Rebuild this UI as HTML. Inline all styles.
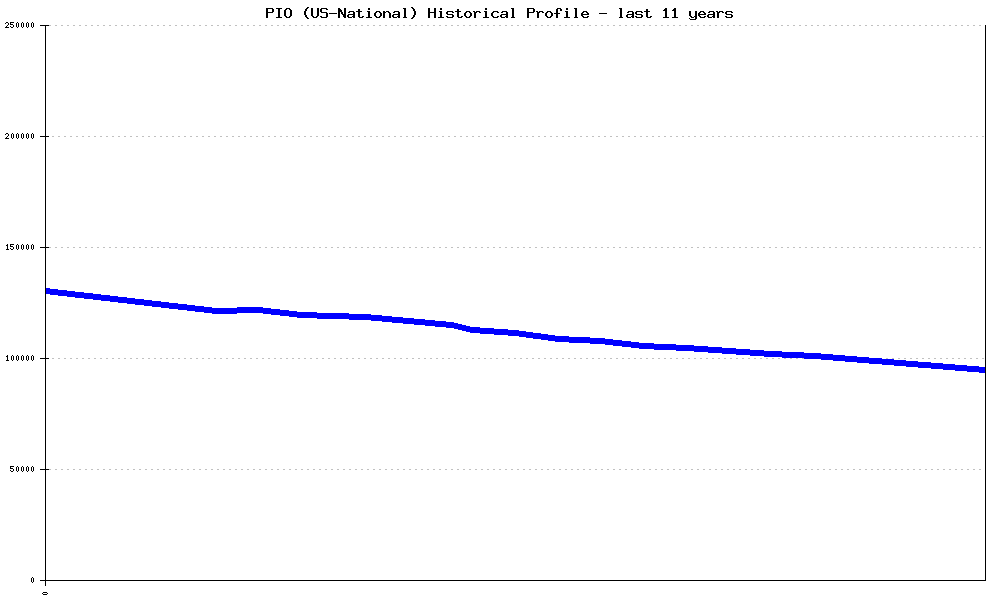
<!DOCTYPE html>
<html><head><meta charset="utf-8"><title>PIO (US-National) Historical Profile</title>
<style>html,body{margin:0;padding:0;background:#fff;}svg{display:block;}
body{font-family:"Liberation Sans",sans-serif;width:1000px;height:600px;overflow:hidden;}</style></head>
<body><svg width="1000" height="600" viewBox="0 0 1000 600" shape-rendering="crispEdges">
<rect width="1000" height="600" fill="#fff"/>
<path fill="#c0c0c0" d="M49 25h2v1h-2zM55 25h2v1h-2zM61 25h2v1h-2zM67 25h2v1h-2zM73 25h2v1h-2zM79 25h2v1h-2zM85 25h2v1h-2zM91 25h2v1h-2zM97 25h2v1h-2zM103 25h2v1h-2zM109 25h2v1h-2zM115 25h2v1h-2zM121 25h2v1h-2zM127 25h2v1h-2zM133 25h2v1h-2zM139 25h2v1h-2zM145 25h2v1h-2zM151 25h2v1h-2zM157 25h2v1h-2zM163 25h2v1h-2zM169 25h2v1h-2zM175 25h2v1h-2zM181 25h2v1h-2zM187 25h2v1h-2zM193 25h2v1h-2zM199 25h2v1h-2zM205 25h2v1h-2zM211 25h2v1h-2zM217 25h2v1h-2zM223 25h2v1h-2zM229 25h2v1h-2zM235 25h2v1h-2zM241 25h2v1h-2zM247 25h2v1h-2zM253 25h2v1h-2zM259 25h2v1h-2zM265 25h2v1h-2zM271 25h2v1h-2zM277 25h2v1h-2zM283 25h2v1h-2zM289 25h2v1h-2zM295 25h2v1h-2zM301 25h2v1h-2zM307 25h2v1h-2zM313 25h2v1h-2zM319 25h2v1h-2zM325 25h2v1h-2zM331 25h2v1h-2zM337 25h2v1h-2zM343 25h2v1h-2zM349 25h2v1h-2zM355 25h2v1h-2zM361 25h2v1h-2zM367 25h2v1h-2zM373 25h2v1h-2zM379 25h2v1h-2zM385 25h2v1h-2zM391 25h2v1h-2zM397 25h2v1h-2zM403 25h2v1h-2zM409 25h2v1h-2zM415 25h2v1h-2zM421 25h2v1h-2zM427 25h2v1h-2zM433 25h2v1h-2zM439 25h2v1h-2zM445 25h2v1h-2zM451 25h2v1h-2zM457 25h2v1h-2zM463 25h2v1h-2zM469 25h2v1h-2zM475 25h2v1h-2zM481 25h2v1h-2zM487 25h2v1h-2zM493 25h2v1h-2zM499 25h2v1h-2zM505 25h2v1h-2zM511 25h2v1h-2zM517 25h2v1h-2zM523 25h2v1h-2zM529 25h2v1h-2zM535 25h2v1h-2zM541 25h2v1h-2zM547 25h2v1h-2zM553 25h2v1h-2zM559 25h2v1h-2zM565 25h2v1h-2zM571 25h2v1h-2zM577 25h2v1h-2zM583 25h2v1h-2zM589 25h2v1h-2zM595 25h2v1h-2zM601 25h2v1h-2zM607 25h2v1h-2zM613 25h2v1h-2zM619 25h2v1h-2zM625 25h2v1h-2zM631 25h2v1h-2zM637 25h2v1h-2zM643 25h2v1h-2zM649 25h2v1h-2zM655 25h2v1h-2zM661 25h2v1h-2zM667 25h2v1h-2zM673 25h2v1h-2zM679 25h2v1h-2zM685 25h2v1h-2zM691 25h2v1h-2zM697 25h2v1h-2zM703 25h2v1h-2zM709 25h2v1h-2zM715 25h2v1h-2zM721 25h2v1h-2zM727 25h2v1h-2zM733 25h2v1h-2zM739 25h2v1h-2zM745 25h2v1h-2zM751 25h2v1h-2zM757 25h2v1h-2zM763 25h2v1h-2zM769 25h2v1h-2zM775 25h2v1h-2zM781 25h2v1h-2zM787 25h2v1h-2zM793 25h2v1h-2zM799 25h2v1h-2zM805 25h2v1h-2zM811 25h2v1h-2zM817 25h2v1h-2zM823 25h2v1h-2zM829 25h2v1h-2zM835 25h2v1h-2zM841 25h2v1h-2zM847 25h2v1h-2zM853 25h2v1h-2zM859 25h2v1h-2zM865 25h2v1h-2zM871 25h2v1h-2zM877 25h2v1h-2zM883 25h2v1h-2zM889 25h2v1h-2zM895 25h2v1h-2zM901 25h2v1h-2zM907 25h2v1h-2zM913 25h2v1h-2zM919 25h2v1h-2zM925 25h2v1h-2zM931 25h2v1h-2zM937 25h2v1h-2zM943 25h2v1h-2zM949 25h2v1h-2zM955 25h2v1h-2zM961 25h2v1h-2zM967 25h2v1h-2zM973 25h2v1h-2zM979 25h2v1h-2zM46 136h2v1h-2zM52 136h2v1h-2zM58 136h2v1h-2zM64 136h2v1h-2zM70 136h2v1h-2zM76 136h2v1h-2zM82 136h2v1h-2zM88 136h2v1h-2zM94 136h2v1h-2zM100 136h2v1h-2zM106 136h2v1h-2zM112 136h2v1h-2zM118 136h2v1h-2zM124 136h2v1h-2zM130 136h2v1h-2zM136 136h2v1h-2zM142 136h2v1h-2zM148 136h2v1h-2zM154 136h2v1h-2zM160 136h2v1h-2zM166 136h2v1h-2zM172 136h2v1h-2zM178 136h2v1h-2zM184 136h2v1h-2zM190 136h2v1h-2zM196 136h2v1h-2zM202 136h2v1h-2zM208 136h2v1h-2zM214 136h2v1h-2zM220 136h2v1h-2zM226 136h2v1h-2zM232 136h2v1h-2zM238 136h2v1h-2zM244 136h2v1h-2zM250 136h2v1h-2zM256 136h2v1h-2zM262 136h2v1h-2zM268 136h2v1h-2zM274 136h2v1h-2zM280 136h2v1h-2zM286 136h2v1h-2zM292 136h2v1h-2zM298 136h2v1h-2zM304 136h2v1h-2zM310 136h2v1h-2zM316 136h2v1h-2zM322 136h2v1h-2zM328 136h2v1h-2zM334 136h2v1h-2zM340 136h2v1h-2zM346 136h2v1h-2zM352 136h2v1h-2zM358 136h2v1h-2zM364 136h2v1h-2zM370 136h2v1h-2zM376 136h2v1h-2zM382 136h2v1h-2zM388 136h2v1h-2zM394 136h2v1h-2zM400 136h2v1h-2zM406 136h2v1h-2zM412 136h2v1h-2zM418 136h2v1h-2zM424 136h2v1h-2zM430 136h2v1h-2zM436 136h2v1h-2zM442 136h2v1h-2zM448 136h2v1h-2zM454 136h2v1h-2zM460 136h2v1h-2zM466 136h2v1h-2zM472 136h2v1h-2zM478 136h2v1h-2zM484 136h2v1h-2zM490 136h2v1h-2zM496 136h2v1h-2zM502 136h2v1h-2zM508 136h2v1h-2zM514 136h2v1h-2zM520 136h2v1h-2zM526 136h2v1h-2zM532 136h2v1h-2zM538 136h2v1h-2zM544 136h2v1h-2zM550 136h2v1h-2zM556 136h2v1h-2zM562 136h2v1h-2zM568 136h2v1h-2zM574 136h2v1h-2zM580 136h2v1h-2zM586 136h2v1h-2zM592 136h2v1h-2zM598 136h2v1h-2zM604 136h2v1h-2zM610 136h2v1h-2zM616 136h2v1h-2zM622 136h2v1h-2zM628 136h2v1h-2zM634 136h2v1h-2zM640 136h2v1h-2zM646 136h2v1h-2zM652 136h2v1h-2zM658 136h2v1h-2zM664 136h2v1h-2zM670 136h2v1h-2zM676 136h2v1h-2zM682 136h2v1h-2zM688 136h2v1h-2zM694 136h2v1h-2zM700 136h2v1h-2zM706 136h2v1h-2zM712 136h2v1h-2zM718 136h2v1h-2zM724 136h2v1h-2zM730 136h2v1h-2zM736 136h2v1h-2zM742 136h2v1h-2zM748 136h2v1h-2zM754 136h2v1h-2zM760 136h2v1h-2zM766 136h2v1h-2zM772 136h2v1h-2zM778 136h2v1h-2zM784 136h2v1h-2zM790 136h2v1h-2zM796 136h2v1h-2zM802 136h2v1h-2zM808 136h2v1h-2zM814 136h2v1h-2zM820 136h2v1h-2zM826 136h2v1h-2zM832 136h2v1h-2zM838 136h2v1h-2zM844 136h2v1h-2zM850 136h2v1h-2zM856 136h2v1h-2zM862 136h2v1h-2zM868 136h2v1h-2zM874 136h2v1h-2zM880 136h2v1h-2zM886 136h2v1h-2zM892 136h2v1h-2zM898 136h2v1h-2zM904 136h2v1h-2zM910 136h2v1h-2zM916 136h2v1h-2zM922 136h2v1h-2zM928 136h2v1h-2zM934 136h2v1h-2zM940 136h2v1h-2zM946 136h2v1h-2zM952 136h2v1h-2zM958 136h2v1h-2zM964 136h2v1h-2zM970 136h2v1h-2zM976 136h2v1h-2zM982 136h2v1h-2zM49 247h2v1h-2zM55 247h2v1h-2zM61 247h2v1h-2zM67 247h2v1h-2zM73 247h2v1h-2zM79 247h2v1h-2zM85 247h2v1h-2zM91 247h2v1h-2zM97 247h2v1h-2zM103 247h2v1h-2zM109 247h2v1h-2zM115 247h2v1h-2zM121 247h2v1h-2zM127 247h2v1h-2zM133 247h2v1h-2zM139 247h2v1h-2zM145 247h2v1h-2zM151 247h2v1h-2zM157 247h2v1h-2zM163 247h2v1h-2zM169 247h2v1h-2zM175 247h2v1h-2zM181 247h2v1h-2zM187 247h2v1h-2zM193 247h2v1h-2zM199 247h2v1h-2zM205 247h2v1h-2zM211 247h2v1h-2zM217 247h2v1h-2zM223 247h2v1h-2zM229 247h2v1h-2zM235 247h2v1h-2zM241 247h2v1h-2zM247 247h2v1h-2zM253 247h2v1h-2zM259 247h2v1h-2zM265 247h2v1h-2zM271 247h2v1h-2zM277 247h2v1h-2zM283 247h2v1h-2zM289 247h2v1h-2zM295 247h2v1h-2zM301 247h2v1h-2zM307 247h2v1h-2zM313 247h2v1h-2zM319 247h2v1h-2zM325 247h2v1h-2zM331 247h2v1h-2zM337 247h2v1h-2zM343 247h2v1h-2zM349 247h2v1h-2zM355 247h2v1h-2zM361 247h2v1h-2zM367 247h2v1h-2zM373 247h2v1h-2zM379 247h2v1h-2zM385 247h2v1h-2zM391 247h2v1h-2zM397 247h2v1h-2zM403 247h2v1h-2zM409 247h2v1h-2zM415 247h2v1h-2zM421 247h2v1h-2zM427 247h2v1h-2zM433 247h2v1h-2zM439 247h2v1h-2zM445 247h2v1h-2zM451 247h2v1h-2zM457 247h2v1h-2zM463 247h2v1h-2zM469 247h2v1h-2zM475 247h2v1h-2zM481 247h2v1h-2zM487 247h2v1h-2zM493 247h2v1h-2zM499 247h2v1h-2zM505 247h2v1h-2zM511 247h2v1h-2zM517 247h2v1h-2zM523 247h2v1h-2zM529 247h2v1h-2zM535 247h2v1h-2zM541 247h2v1h-2zM547 247h2v1h-2zM553 247h2v1h-2zM559 247h2v1h-2zM565 247h2v1h-2zM571 247h2v1h-2zM577 247h2v1h-2zM583 247h2v1h-2zM589 247h2v1h-2zM595 247h2v1h-2zM601 247h2v1h-2zM607 247h2v1h-2zM613 247h2v1h-2zM619 247h2v1h-2zM625 247h2v1h-2zM631 247h2v1h-2zM637 247h2v1h-2zM643 247h2v1h-2zM649 247h2v1h-2zM655 247h2v1h-2zM661 247h2v1h-2zM667 247h2v1h-2zM673 247h2v1h-2zM679 247h2v1h-2zM685 247h2v1h-2zM691 247h2v1h-2zM697 247h2v1h-2zM703 247h2v1h-2zM709 247h2v1h-2zM715 247h2v1h-2zM721 247h2v1h-2zM727 247h2v1h-2zM733 247h2v1h-2zM739 247h2v1h-2zM745 247h2v1h-2zM751 247h2v1h-2zM757 247h2v1h-2zM763 247h2v1h-2zM769 247h2v1h-2zM775 247h2v1h-2zM781 247h2v1h-2zM787 247h2v1h-2zM793 247h2v1h-2zM799 247h2v1h-2zM805 247h2v1h-2zM811 247h2v1h-2zM817 247h2v1h-2zM823 247h2v1h-2zM829 247h2v1h-2zM835 247h2v1h-2zM841 247h2v1h-2zM847 247h2v1h-2zM853 247h2v1h-2zM859 247h2v1h-2zM865 247h2v1h-2zM871 247h2v1h-2zM877 247h2v1h-2zM883 247h2v1h-2zM889 247h2v1h-2zM895 247h2v1h-2zM901 247h2v1h-2zM907 247h2v1h-2zM913 247h2v1h-2zM919 247h2v1h-2zM925 247h2v1h-2zM931 247h2v1h-2zM937 247h2v1h-2zM943 247h2v1h-2zM949 247h2v1h-2zM955 247h2v1h-2zM961 247h2v1h-2zM967 247h2v1h-2zM973 247h2v1h-2zM979 247h2v1h-2zM46 358h2v1h-2zM52 358h2v1h-2zM58 358h2v1h-2zM64 358h2v1h-2zM70 358h2v1h-2zM76 358h2v1h-2zM82 358h2v1h-2zM88 358h2v1h-2zM94 358h2v1h-2zM100 358h2v1h-2zM106 358h2v1h-2zM112 358h2v1h-2zM118 358h2v1h-2zM124 358h2v1h-2zM130 358h2v1h-2zM136 358h2v1h-2zM142 358h2v1h-2zM148 358h2v1h-2zM154 358h2v1h-2zM160 358h2v1h-2zM166 358h2v1h-2zM172 358h2v1h-2zM178 358h2v1h-2zM184 358h2v1h-2zM190 358h2v1h-2zM196 358h2v1h-2zM202 358h2v1h-2zM208 358h2v1h-2zM214 358h2v1h-2zM220 358h2v1h-2zM226 358h2v1h-2zM232 358h2v1h-2zM238 358h2v1h-2zM244 358h2v1h-2zM250 358h2v1h-2zM256 358h2v1h-2zM262 358h2v1h-2zM268 358h2v1h-2zM274 358h2v1h-2zM280 358h2v1h-2zM286 358h2v1h-2zM292 358h2v1h-2zM298 358h2v1h-2zM304 358h2v1h-2zM310 358h2v1h-2zM316 358h2v1h-2zM322 358h2v1h-2zM328 358h2v1h-2zM334 358h2v1h-2zM340 358h2v1h-2zM346 358h2v1h-2zM352 358h2v1h-2zM358 358h2v1h-2zM364 358h2v1h-2zM370 358h2v1h-2zM376 358h2v1h-2zM382 358h2v1h-2zM388 358h2v1h-2zM394 358h2v1h-2zM400 358h2v1h-2zM406 358h2v1h-2zM412 358h2v1h-2zM418 358h2v1h-2zM424 358h2v1h-2zM430 358h2v1h-2zM436 358h2v1h-2zM442 358h2v1h-2zM448 358h2v1h-2zM454 358h2v1h-2zM460 358h2v1h-2zM466 358h2v1h-2zM472 358h2v1h-2zM478 358h2v1h-2zM484 358h2v1h-2zM490 358h2v1h-2zM496 358h2v1h-2zM502 358h2v1h-2zM508 358h2v1h-2zM514 358h2v1h-2zM520 358h2v1h-2zM526 358h2v1h-2zM532 358h2v1h-2zM538 358h2v1h-2zM544 358h2v1h-2zM550 358h2v1h-2zM556 358h2v1h-2zM562 358h2v1h-2zM568 358h2v1h-2zM574 358h2v1h-2zM580 358h2v1h-2zM586 358h2v1h-2zM592 358h2v1h-2zM598 358h2v1h-2zM604 358h2v1h-2zM610 358h2v1h-2zM616 358h2v1h-2zM622 358h2v1h-2zM628 358h2v1h-2zM634 358h2v1h-2zM640 358h2v1h-2zM646 358h2v1h-2zM652 358h2v1h-2zM658 358h2v1h-2zM664 358h2v1h-2zM670 358h2v1h-2zM676 358h2v1h-2zM682 358h2v1h-2zM688 358h2v1h-2zM694 358h2v1h-2zM700 358h2v1h-2zM706 358h2v1h-2zM712 358h2v1h-2zM718 358h2v1h-2zM724 358h2v1h-2zM730 358h2v1h-2zM736 358h2v1h-2zM742 358h2v1h-2zM748 358h2v1h-2zM754 358h2v1h-2zM760 358h2v1h-2zM766 358h2v1h-2zM772 358h2v1h-2zM778 358h2v1h-2zM784 358h2v1h-2zM790 358h2v1h-2zM796 358h2v1h-2zM802 358h2v1h-2zM808 358h2v1h-2zM814 358h2v1h-2zM820 358h2v1h-2zM826 358h2v1h-2zM832 358h2v1h-2zM838 358h2v1h-2zM844 358h2v1h-2zM850 358h2v1h-2zM856 358h2v1h-2zM862 358h2v1h-2zM868 358h2v1h-2zM874 358h2v1h-2zM880 358h2v1h-2zM886 358h2v1h-2zM892 358h2v1h-2zM898 358h2v1h-2zM904 358h2v1h-2zM910 358h2v1h-2zM916 358h2v1h-2zM922 358h2v1h-2zM928 358h2v1h-2zM934 358h2v1h-2zM940 358h2v1h-2zM946 358h2v1h-2zM952 358h2v1h-2zM958 358h2v1h-2zM964 358h2v1h-2zM970 358h2v1h-2zM976 358h2v1h-2zM982 358h2v1h-2zM49 469h2v1h-2zM55 469h2v1h-2zM61 469h2v1h-2zM67 469h2v1h-2zM73 469h2v1h-2zM79 469h2v1h-2zM85 469h2v1h-2zM91 469h2v1h-2zM97 469h2v1h-2zM103 469h2v1h-2zM109 469h2v1h-2zM115 469h2v1h-2zM121 469h2v1h-2zM127 469h2v1h-2zM133 469h2v1h-2zM139 469h2v1h-2zM145 469h2v1h-2zM151 469h2v1h-2zM157 469h2v1h-2zM163 469h2v1h-2zM169 469h2v1h-2zM175 469h2v1h-2zM181 469h2v1h-2zM187 469h2v1h-2zM193 469h2v1h-2zM199 469h2v1h-2zM205 469h2v1h-2zM211 469h2v1h-2zM217 469h2v1h-2zM223 469h2v1h-2zM229 469h2v1h-2zM235 469h2v1h-2zM241 469h2v1h-2zM247 469h2v1h-2zM253 469h2v1h-2zM259 469h2v1h-2zM265 469h2v1h-2zM271 469h2v1h-2zM277 469h2v1h-2zM283 469h2v1h-2zM289 469h2v1h-2zM295 469h2v1h-2zM301 469h2v1h-2zM307 469h2v1h-2zM313 469h2v1h-2zM319 469h2v1h-2zM325 469h2v1h-2zM331 469h2v1h-2zM337 469h2v1h-2zM343 469h2v1h-2zM349 469h2v1h-2zM355 469h2v1h-2zM361 469h2v1h-2zM367 469h2v1h-2zM373 469h2v1h-2zM379 469h2v1h-2zM385 469h2v1h-2zM391 469h2v1h-2zM397 469h2v1h-2zM403 469h2v1h-2zM409 469h2v1h-2zM415 469h2v1h-2zM421 469h2v1h-2zM427 469h2v1h-2zM433 469h2v1h-2zM439 469h2v1h-2zM445 469h2v1h-2zM451 469h2v1h-2zM457 469h2v1h-2zM463 469h2v1h-2zM469 469h2v1h-2zM475 469h2v1h-2zM481 469h2v1h-2zM487 469h2v1h-2zM493 469h2v1h-2zM499 469h2v1h-2zM505 469h2v1h-2zM511 469h2v1h-2zM517 469h2v1h-2zM523 469h2v1h-2zM529 469h2v1h-2zM535 469h2v1h-2zM541 469h2v1h-2zM547 469h2v1h-2zM553 469h2v1h-2zM559 469h2v1h-2zM565 469h2v1h-2zM571 469h2v1h-2zM577 469h2v1h-2zM583 469h2v1h-2zM589 469h2v1h-2zM595 469h2v1h-2zM601 469h2v1h-2zM607 469h2v1h-2zM613 469h2v1h-2zM619 469h2v1h-2zM625 469h2v1h-2zM631 469h2v1h-2zM637 469h2v1h-2zM643 469h2v1h-2zM649 469h2v1h-2zM655 469h2v1h-2zM661 469h2v1h-2zM667 469h2v1h-2zM673 469h2v1h-2zM679 469h2v1h-2zM685 469h2v1h-2zM691 469h2v1h-2zM697 469h2v1h-2zM703 469h2v1h-2zM709 469h2v1h-2zM715 469h2v1h-2zM721 469h2v1h-2zM727 469h2v1h-2zM733 469h2v1h-2zM739 469h2v1h-2zM745 469h2v1h-2zM751 469h2v1h-2zM757 469h2v1h-2zM763 469h2v1h-2zM769 469h2v1h-2zM775 469h2v1h-2zM781 469h2v1h-2zM787 469h2v1h-2zM793 469h2v1h-2zM799 469h2v1h-2zM805 469h2v1h-2zM811 469h2v1h-2zM817 469h2v1h-2zM823 469h2v1h-2zM829 469h2v1h-2zM835 469h2v1h-2zM841 469h2v1h-2zM847 469h2v1h-2zM853 469h2v1h-2zM859 469h2v1h-2zM865 469h2v1h-2zM871 469h2v1h-2zM877 469h2v1h-2zM883 469h2v1h-2zM889 469h2v1h-2zM895 469h2v1h-2zM901 469h2v1h-2zM907 469h2v1h-2zM913 469h2v1h-2zM919 469h2v1h-2zM925 469h2v1h-2zM931 469h2v1h-2zM937 469h2v1h-2zM943 469h2v1h-2zM949 469h2v1h-2zM955 469h2v1h-2zM961 469h2v1h-2zM967 469h2v1h-2zM973 469h2v1h-2zM979 469h2v1h-2z"/>
<path fill="#0000ff" d="M45 288h5v6h-5zM50 289h8v6h-8zM58 290h9v6h-9zM67 291h8v6h-8zM75 292h9v6h-9zM84 293h9v6h-9zM93 294h8v6h-8zM101 295h9v6h-9zM110 296h8v6h-8zM118 297h9v6h-9zM127 298h8v6h-8zM135 299h9v6h-9zM144 300h8v6h-8zM152 301h9v6h-9zM161 302h8v6h-8zM169 303h9v6h-9zM178 304h9v6h-9zM187 305h8v6h-8zM195 306h9v6h-9zM204 307h8v6h-8zM212 308h25v6h-25zM237 307h26v6h-26zM263 308h8v6h-8zM271 309h9v6h-9zM280 310h9v6h-9zM289 311h8v6h-8zM297 312h20v6h-20zM317 313h32v6h-32zM349 314h22v6h-22zM371 315h11v6h-11zM382 316h10v6h-10zM392 317h11v6h-11zM403 318h11v6h-11zM414 319h11v6h-11zM425 320h10v6h-10zM435 321h11v6h-11zM446 322h8v6h-8zM454 323h4v6h-4zM458 324h4v6h-4zM462 325h4v6h-4zM466 326h4v6h-4zM470 327h10v6h-10zM480 328h14v6h-14zM494 329h14v6h-14zM508 330h11v6h-11zM519 331h7v6h-7zM526 332h7v6h-7zM533 333h8v6h-8zM541 334h7v6h-7zM548 335h7v6h-7zM555 336h14v6h-14zM569 337h21v6h-21zM590 338h15v6h-15zM605 339h8v6h-8zM613 340h9v6h-9zM622 341h9v6h-9zM631 342h8v6h-8zM639 343h15v6h-15zM654 344h22v6h-22zM676 345h18v6h-18zM694 346h14v6h-14zM708 347h14v6h-14zM722 348h14v6h-14zM736 349h14v6h-14zM750 350h14v6h-14zM764 351h18v6h-18zM782 352h22v6h-22zM804 353h17v6h-17zM821 354h12v6h-12zM833 355h12v6h-12zM845 356h12v6h-12zM857 357h12v6h-12zM869 358h13v6h-13zM882 359h12v6h-12zM894 360h12v6h-12zM906 361h12v6h-12zM918 362h13v6h-13zM931 363h12v6h-12zM943 364h12v6h-12zM955 365h12v6h-12zM967 366h12v6h-12zM979 367h6v6h-6z"/>
<path fill="#000" d="M45 25h1v561h-1zM985 25h1v556h-1zM40 580h946v1h-946zM40 25h9v1h-9zM40 136h9v1h-9zM40 247h9v1h-9zM40 358h9v1h-9zM40 469h9v1h-9z"/>
<path fill="#000" d="M307 7h2v1h-2zM411 7h2v1h-2zM266 8h7v1h-7zM276 8h6v1h-6zM286 8h4v1h-4zM306 8h2v1h-2zM311 8h2v1h-2zM317 8h2v1h-2zM321 8h6v1h-6zM338 8h2v1h-2zM344 8h2v1h-2zM368 8h2v1h-2zM403 8h3v1h-3zM412 8h2v1h-2zM428 8h2v1h-2zM434 8h2v1h-2zM440 8h2v1h-2zM485 8h2v1h-2zM511 8h3v1h-3zM527 8h7v1h-7zM557 8h4v1h-4zM566 8h2v1h-2zM574 8h3v1h-3zM619 8h3v1h-3zM665 8h2v1h-2zM674 8h2v1h-2zM266 9h2v1h-2zM272 9h2v1h-2zM278 9h2v1h-2zM285 9h2v1h-2zM289 9h2v1h-2zM305 9h2v1h-2zM311 9h2v1h-2zM317 9h2v1h-2zM320 9h2v1h-2zM326 9h2v1h-2zM338 9h3v1h-3zM344 9h2v1h-2zM358 9h2v1h-2zM368 9h2v1h-2zM404 9h2v1h-2zM413 9h2v1h-2zM428 9h2v1h-2zM434 9h2v1h-2zM440 9h2v1h-2zM457 9h2v1h-2zM485 9h2v1h-2zM512 9h2v1h-2zM527 9h2v1h-2zM533 9h2v1h-2zM556 9h2v1h-2zM560 9h2v1h-2zM566 9h2v1h-2zM575 9h2v1h-2zM620 9h2v1h-2zM646 9h2v1h-2zM664 9h3v1h-3zM673 9h3v1h-3zM266 10h2v1h-2zM272 10h2v1h-2zM278 10h2v1h-2zM284 10h2v1h-2zM290 10h2v1h-2zM305 10h2v1h-2zM311 10h2v1h-2zM317 10h2v1h-2zM320 10h2v1h-2zM338 10h4v1h-4zM344 10h2v1h-2zM358 10h2v1h-2zM404 10h2v1h-2zM413 10h2v1h-2zM428 10h2v1h-2zM434 10h2v1h-2zM457 10h2v1h-2zM512 10h2v1h-2zM527 10h2v1h-2zM533 10h2v1h-2zM556 10h2v1h-2zM560 10h2v1h-2zM575 10h2v1h-2zM620 10h2v1h-2zM646 10h2v1h-2zM663 10h4v1h-4zM672 10h4v1h-4zM266 11h2v1h-2zM272 11h2v1h-2zM278 11h2v1h-2zM284 11h2v1h-2zM290 11h2v1h-2zM304 11h2v1h-2zM311 11h2v1h-2zM317 11h2v1h-2zM320 11h2v1h-2zM338 11h4v1h-4zM344 11h2v1h-2zM349 11h5v1h-5zM356 11h6v1h-6zM367 11h3v1h-3zM376 11h4v1h-4zM383 11h2v1h-2zM386 11h3v1h-3zM394 11h5v1h-5zM404 11h2v1h-2zM414 11h2v1h-2zM428 11h2v1h-2zM434 11h2v1h-2zM439 11h3v1h-3zM447 11h6v1h-6zM455 11h6v1h-6zM466 11h4v1h-4zM473 11h2v1h-2zM476 11h4v1h-4zM484 11h3v1h-3zM493 11h5v1h-5zM502 11h5v1h-5zM512 11h2v1h-2zM527 11h2v1h-2zM533 11h2v1h-2zM536 11h2v1h-2zM539 11h4v1h-4zM547 11h4v1h-4zM556 11h2v1h-2zM565 11h3v1h-3zM575 11h2v1h-2zM583 11h4v1h-4zM620 11h2v1h-2zM628 11h5v1h-5zM636 11h6v1h-6zM644 11h6v1h-6zM665 11h2v1h-2zM674 11h2v1h-2zM689 11h2v1h-2zM695 11h2v1h-2zM700 11h4v1h-4zM709 11h5v1h-5zM716 11h2v1h-2zM719 11h4v1h-4zM726 11h6v1h-6zM266 12h7v1h-7zM278 12h2v1h-2zM284 12h2v1h-2zM290 12h2v1h-2zM304 12h2v1h-2zM311 12h2v1h-2zM317 12h2v1h-2zM321 12h6v1h-6zM338 12h2v1h-2zM341 12h2v1h-2zM344 12h2v1h-2zM348 12h2v1h-2zM353 12h2v1h-2zM358 12h2v1h-2zM368 12h2v1h-2zM375 12h2v1h-2zM379 12h2v1h-2zM383 12h3v1h-3zM388 12h2v1h-2zM393 12h2v1h-2zM398 12h2v1h-2zM404 12h2v1h-2zM414 12h2v1h-2zM428 12h8v1h-8zM440 12h2v1h-2zM446 12h2v1h-2zM452 12h2v1h-2zM457 12h2v1h-2zM465 12h2v1h-2zM469 12h2v1h-2zM474 12h3v1h-3zM479 12h2v1h-2zM485 12h2v1h-2zM492 12h2v1h-2zM497 12h2v1h-2zM501 12h2v1h-2zM506 12h2v1h-2zM512 12h2v1h-2zM527 12h7v1h-7zM537 12h3v1h-3zM542 12h2v1h-2zM546 12h2v1h-2zM550 12h2v1h-2zM556 12h2v1h-2zM566 12h2v1h-2zM575 12h2v1h-2zM582 12h2v1h-2zM586 12h2v1h-2zM620 12h2v1h-2zM627 12h2v1h-2zM632 12h2v1h-2zM635 12h2v1h-2zM641 12h2v1h-2zM646 12h2v1h-2zM665 12h2v1h-2zM674 12h2v1h-2zM689 12h2v1h-2zM695 12h2v1h-2zM699 12h2v1h-2zM703 12h2v1h-2zM708 12h2v1h-2zM713 12h2v1h-2zM717 12h3v1h-3zM722 12h2v1h-2zM725 12h2v1h-2zM731 12h2v1h-2zM266 13h2v1h-2zM278 13h2v1h-2zM284 13h2v1h-2zM290 13h2v1h-2zM304 13h2v1h-2zM311 13h2v1h-2zM317 13h2v1h-2zM326 13h2v1h-2zM329 13h8v1h-8zM338 13h2v1h-2zM341 13h2v1h-2zM344 13h2v1h-2zM353 13h2v1h-2zM358 13h2v1h-2zM368 13h2v1h-2zM374 13h2v1h-2zM380 13h2v1h-2zM383 13h2v1h-2zM389 13h2v1h-2zM398 13h2v1h-2zM404 13h2v1h-2zM414 13h2v1h-2zM428 13h2v1h-2zM434 13h2v1h-2zM440 13h2v1h-2zM446 13h2v1h-2zM457 13h2v1h-2zM464 13h2v1h-2zM470 13h2v1h-2zM474 13h2v1h-2zM485 13h2v1h-2zM491 13h2v1h-2zM506 13h2v1h-2zM512 13h2v1h-2zM527 13h2v1h-2zM537 13h2v1h-2zM545 13h2v1h-2zM551 13h2v1h-2zM554 13h6v1h-6zM566 13h2v1h-2zM575 13h2v1h-2zM581 13h2v1h-2zM587 13h2v1h-2zM599 13h8v1h-8zM620 13h2v1h-2zM632 13h2v1h-2zM635 13h2v1h-2zM646 13h2v1h-2zM665 13h2v1h-2zM674 13h2v1h-2zM689 13h2v1h-2zM695 13h2v1h-2zM698 13h2v1h-2zM704 13h2v1h-2zM713 13h2v1h-2zM717 13h2v1h-2zM725 13h2v1h-2zM266 14h2v1h-2zM278 14h2v1h-2zM284 14h2v1h-2zM290 14h2v1h-2zM304 14h2v1h-2zM311 14h2v1h-2zM317 14h2v1h-2zM326 14h2v1h-2zM338 14h2v1h-2zM342 14h4v1h-4zM348 14h7v1h-7zM358 14h2v1h-2zM368 14h2v1h-2zM374 14h2v1h-2zM380 14h2v1h-2zM383 14h2v1h-2zM389 14h2v1h-2zM393 14h7v1h-7zM404 14h2v1h-2zM414 14h2v1h-2zM428 14h2v1h-2zM434 14h2v1h-2zM440 14h2v1h-2zM447 14h6v1h-6zM457 14h2v1h-2zM464 14h2v1h-2zM470 14h2v1h-2zM474 14h2v1h-2zM485 14h2v1h-2zM491 14h2v1h-2zM501 14h7v1h-7zM512 14h2v1h-2zM527 14h2v1h-2zM537 14h2v1h-2zM545 14h2v1h-2zM551 14h2v1h-2zM556 14h2v1h-2zM566 14h2v1h-2zM575 14h2v1h-2zM581 14h8v1h-8zM620 14h2v1h-2zM627 14h7v1h-7zM636 14h6v1h-6zM646 14h2v1h-2zM665 14h2v1h-2zM674 14h2v1h-2zM689 14h2v1h-2zM695 14h2v1h-2zM698 14h8v1h-8zM708 14h7v1h-7zM717 14h2v1h-2zM726 14h6v1h-6zM266 15h2v1h-2zM278 15h2v1h-2zM284 15h2v1h-2zM290 15h2v1h-2zM305 15h2v1h-2zM311 15h2v1h-2zM317 15h2v1h-2zM326 15h2v1h-2zM338 15h2v1h-2zM343 15h3v1h-3zM347 15h2v1h-2zM353 15h2v1h-2zM358 15h2v1h-2zM368 15h2v1h-2zM374 15h2v1h-2zM380 15h2v1h-2zM383 15h2v1h-2zM389 15h2v1h-2zM392 15h2v1h-2zM398 15h2v1h-2zM404 15h2v1h-2zM413 15h2v1h-2zM428 15h2v1h-2zM434 15h2v1h-2zM440 15h2v1h-2zM452 15h2v1h-2zM457 15h2v1h-2zM464 15h2v1h-2zM470 15h2v1h-2zM474 15h2v1h-2zM485 15h2v1h-2zM491 15h2v1h-2zM500 15h2v1h-2zM506 15h2v1h-2zM512 15h2v1h-2zM527 15h2v1h-2zM537 15h2v1h-2zM545 15h2v1h-2zM551 15h2v1h-2zM556 15h2v1h-2zM566 15h2v1h-2zM575 15h2v1h-2zM581 15h2v1h-2zM620 15h2v1h-2zM626 15h2v1h-2zM632 15h2v1h-2zM641 15h2v1h-2zM646 15h2v1h-2zM665 15h2v1h-2zM674 15h2v1h-2zM689 15h2v1h-2zM695 15h2v1h-2zM698 15h2v1h-2zM707 15h2v1h-2zM713 15h2v1h-2zM717 15h2v1h-2zM731 15h2v1h-2zM266 16h2v1h-2zM278 16h2v1h-2zM285 16h2v1h-2zM289 16h2v1h-2zM305 16h2v1h-2zM312 16h2v1h-2zM316 16h2v1h-2zM320 16h2v1h-2zM326 16h2v1h-2zM338 16h2v1h-2zM343 16h3v1h-3zM347 16h2v1h-2zM352 16h3v1h-3zM358 16h2v1h-2zM362 16h2v1h-2zM368 16h2v1h-2zM375 16h2v1h-2zM379 16h2v1h-2zM383 16h2v1h-2zM389 16h2v1h-2zM392 16h2v1h-2zM397 16h3v1h-3zM404 16h2v1h-2zM413 16h2v1h-2zM428 16h2v1h-2zM434 16h2v1h-2zM440 16h2v1h-2zM446 16h2v1h-2zM452 16h2v1h-2zM457 16h2v1h-2zM461 16h2v1h-2zM465 16h2v1h-2zM469 16h2v1h-2zM474 16h2v1h-2zM485 16h2v1h-2zM492 16h2v1h-2zM497 16h2v1h-2zM500 16h2v1h-2zM505 16h3v1h-3zM512 16h2v1h-2zM527 16h2v1h-2zM537 16h2v1h-2zM546 16h2v1h-2zM550 16h2v1h-2zM556 16h2v1h-2zM566 16h2v1h-2zM575 16h2v1h-2zM582 16h2v1h-2zM587 16h2v1h-2zM620 16h2v1h-2zM626 16h2v1h-2zM631 16h3v1h-3zM635 16h2v1h-2zM641 16h2v1h-2zM646 16h2v1h-2zM650 16h2v1h-2zM665 16h2v1h-2zM674 16h2v1h-2zM690 16h2v1h-2zM694 16h3v1h-3zM699 16h2v1h-2zM704 16h2v1h-2zM707 16h2v1h-2zM712 16h3v1h-3zM717 16h2v1h-2zM725 16h2v1h-2zM731 16h2v1h-2zM266 17h2v1h-2zM276 17h6v1h-6zM286 17h4v1h-4zM306 17h2v1h-2zM313 17h4v1h-4zM321 17h6v1h-6zM338 17h2v1h-2zM344 17h2v1h-2zM348 17h4v1h-4zM353 17h2v1h-2zM359 17h4v1h-4zM366 17h6v1h-6zM376 17h4v1h-4zM383 17h2v1h-2zM389 17h2v1h-2zM393 17h4v1h-4zM398 17h2v1h-2zM403 17h4v1h-4zM412 17h2v1h-2zM428 17h2v1h-2zM434 17h2v1h-2zM438 17h6v1h-6zM447 17h6v1h-6zM458 17h4v1h-4zM466 17h4v1h-4zM474 17h2v1h-2zM483 17h6v1h-6zM493 17h5v1h-5zM501 17h4v1h-4zM506 17h2v1h-2zM511 17h4v1h-4zM527 17h2v1h-2zM537 17h2v1h-2zM547 17h4v1h-4zM556 17h2v1h-2zM564 17h6v1h-6zM574 17h4v1h-4zM583 17h5v1h-5zM619 17h4v1h-4zM627 17h4v1h-4zM632 17h2v1h-2zM636 17h6v1h-6zM647 17h4v1h-4zM663 17h6v1h-6zM672 17h6v1h-6zM691 17h3v1h-3zM695 17h2v1h-2zM700 17h5v1h-5zM708 17h4v1h-4zM713 17h2v1h-2zM717 17h2v1h-2zM726 17h6v1h-6zM307 18h2v1h-2zM411 18h2v1h-2zM689 18h1v1h-1zM695 18h2v1h-2zM690 19h6v1h-6zM6 22h2v1h-2zM10 22h4v1h-4zM17 22h1v1h-1zM22 22h1v1h-1zM27 22h1v1h-1zM32 22h1v1h-1zM5 23h1v1h-1zM8 23h1v1h-1zM10 23h1v1h-1zM16 23h1v1h-1zM18 23h1v1h-1zM21 23h1v1h-1zM23 23h1v1h-1zM26 23h1v1h-1zM28 23h1v1h-1zM31 23h1v1h-1zM33 23h1v1h-1zM8 24h1v1h-1zM10 24h3v1h-3zM16 24h1v1h-1zM18 24h1v1h-1zM21 24h1v1h-1zM23 24h1v1h-1zM26 24h1v1h-1zM28 24h1v1h-1zM31 24h1v1h-1zM33 24h1v1h-1zM7 25h1v1h-1zM13 25h1v1h-1zM16 25h1v1h-1zM18 25h1v1h-1zM21 25h1v1h-1zM23 25h1v1h-1zM26 25h1v1h-1zM28 25h1v1h-1zM31 25h1v1h-1zM33 25h1v1h-1zM6 26h1v1h-1zM10 26h1v1h-1zM13 26h1v1h-1zM16 26h1v1h-1zM18 26h1v1h-1zM21 26h1v1h-1zM23 26h1v1h-1zM26 26h1v1h-1zM28 26h1v1h-1zM31 26h1v1h-1zM33 26h1v1h-1zM5 27h4v1h-4zM11 27h2v1h-2zM17 27h1v1h-1zM22 27h1v1h-1zM27 27h1v1h-1zM32 27h1v1h-1zM6 133h2v1h-2zM12 133h1v1h-1zM17 133h1v1h-1zM22 133h1v1h-1zM27 133h1v1h-1zM32 133h1v1h-1zM5 134h1v1h-1zM8 134h1v1h-1zM11 134h1v1h-1zM13 134h1v1h-1zM16 134h1v1h-1zM18 134h1v1h-1zM21 134h1v1h-1zM23 134h1v1h-1zM26 134h1v1h-1zM28 134h1v1h-1zM31 134h1v1h-1zM33 134h1v1h-1zM8 135h1v1h-1zM11 135h1v1h-1zM13 135h1v1h-1zM16 135h1v1h-1zM18 135h1v1h-1zM21 135h1v1h-1zM23 135h1v1h-1zM26 135h1v1h-1zM28 135h1v1h-1zM31 135h1v1h-1zM33 135h1v1h-1zM7 136h1v1h-1zM11 136h1v1h-1zM13 136h1v1h-1zM16 136h1v1h-1zM18 136h1v1h-1zM21 136h1v1h-1zM23 136h1v1h-1zM26 136h1v1h-1zM28 136h1v1h-1zM31 136h1v1h-1zM33 136h1v1h-1zM6 137h1v1h-1zM11 137h1v1h-1zM13 137h1v1h-1zM16 137h1v1h-1zM18 137h1v1h-1zM21 137h1v1h-1zM23 137h1v1h-1zM26 137h1v1h-1zM28 137h1v1h-1zM31 137h1v1h-1zM33 137h1v1h-1zM5 138h4v1h-4zM12 138h1v1h-1zM17 138h1v1h-1zM22 138h1v1h-1zM27 138h1v1h-1zM32 138h1v1h-1zM7 244h1v1h-1zM10 244h4v1h-4zM17 244h1v1h-1zM22 244h1v1h-1zM27 244h1v1h-1zM32 244h1v1h-1zM6 245h2v1h-2zM10 245h1v1h-1zM16 245h1v1h-1zM18 245h1v1h-1zM21 245h1v1h-1zM23 245h1v1h-1zM26 245h1v1h-1zM28 245h1v1h-1zM31 245h1v1h-1zM33 245h1v1h-1zM7 246h1v1h-1zM10 246h3v1h-3zM16 246h1v1h-1zM18 246h1v1h-1zM21 246h1v1h-1zM23 246h1v1h-1zM26 246h1v1h-1zM28 246h1v1h-1zM31 246h1v1h-1zM33 246h1v1h-1zM7 247h1v1h-1zM13 247h1v1h-1zM16 247h1v1h-1zM18 247h1v1h-1zM21 247h1v1h-1zM23 247h1v1h-1zM26 247h1v1h-1zM28 247h1v1h-1zM31 247h1v1h-1zM33 247h1v1h-1zM7 248h1v1h-1zM10 248h1v1h-1zM13 248h1v1h-1zM16 248h1v1h-1zM18 248h1v1h-1zM21 248h1v1h-1zM23 248h1v1h-1zM26 248h1v1h-1zM28 248h1v1h-1zM31 248h1v1h-1zM33 248h1v1h-1zM6 249h3v1h-3zM11 249h2v1h-2zM17 249h1v1h-1zM22 249h1v1h-1zM27 249h1v1h-1zM32 249h1v1h-1zM7 355h1v1h-1zM12 355h1v1h-1zM17 355h1v1h-1zM22 355h1v1h-1zM27 355h1v1h-1zM32 355h1v1h-1zM6 356h2v1h-2zM11 356h1v1h-1zM13 356h1v1h-1zM16 356h1v1h-1zM18 356h1v1h-1zM21 356h1v1h-1zM23 356h1v1h-1zM26 356h1v1h-1zM28 356h1v1h-1zM31 356h1v1h-1zM33 356h1v1h-1zM7 357h1v1h-1zM11 357h1v1h-1zM13 357h1v1h-1zM16 357h1v1h-1zM18 357h1v1h-1zM21 357h1v1h-1zM23 357h1v1h-1zM26 357h1v1h-1zM28 357h1v1h-1zM31 357h1v1h-1zM33 357h1v1h-1zM7 358h1v1h-1zM11 358h1v1h-1zM13 358h1v1h-1zM16 358h1v1h-1zM18 358h1v1h-1zM21 358h1v1h-1zM23 358h1v1h-1zM26 358h1v1h-1zM28 358h1v1h-1zM31 358h1v1h-1zM33 358h1v1h-1zM7 359h1v1h-1zM11 359h1v1h-1zM13 359h1v1h-1zM16 359h1v1h-1zM18 359h1v1h-1zM21 359h1v1h-1zM23 359h1v1h-1zM26 359h1v1h-1zM28 359h1v1h-1zM31 359h1v1h-1zM33 359h1v1h-1zM6 360h3v1h-3zM12 360h1v1h-1zM17 360h1v1h-1zM22 360h1v1h-1zM27 360h1v1h-1zM32 360h1v1h-1zM10 466h4v1h-4zM17 466h1v1h-1zM22 466h1v1h-1zM27 466h1v1h-1zM32 466h1v1h-1zM10 467h1v1h-1zM16 467h1v1h-1zM18 467h1v1h-1zM21 467h1v1h-1zM23 467h1v1h-1zM26 467h1v1h-1zM28 467h1v1h-1zM31 467h1v1h-1zM33 467h1v1h-1zM10 468h3v1h-3zM16 468h1v1h-1zM18 468h1v1h-1zM21 468h1v1h-1zM23 468h1v1h-1zM26 468h1v1h-1zM28 468h1v1h-1zM31 468h1v1h-1zM33 468h1v1h-1zM13 469h1v1h-1zM16 469h1v1h-1zM18 469h1v1h-1zM21 469h1v1h-1zM23 469h1v1h-1zM26 469h1v1h-1zM28 469h1v1h-1zM31 469h1v1h-1zM33 469h1v1h-1zM10 470h1v1h-1zM13 470h1v1h-1zM16 470h1v1h-1zM18 470h1v1h-1zM21 470h1v1h-1zM23 470h1v1h-1zM26 470h1v1h-1zM28 470h1v1h-1zM31 470h1v1h-1zM33 470h1v1h-1zM11 471h2v1h-2zM17 471h1v1h-1zM22 471h1v1h-1zM27 471h1v1h-1zM32 471h1v1h-1zM32 577h1v1h-1zM31 578h1v1h-1zM33 578h1v1h-1zM31 579h1v1h-1zM33 579h1v1h-1zM31 580h1v1h-1zM33 580h1v1h-1zM31 581h1v1h-1zM33 581h1v1h-1zM32 582h1v1h-1zM43 592h4v1h-4zM42 593h1v1h-1zM47 593h1v1h-1zM43 594h4v1h-4z"/>
</svg></body></html>
